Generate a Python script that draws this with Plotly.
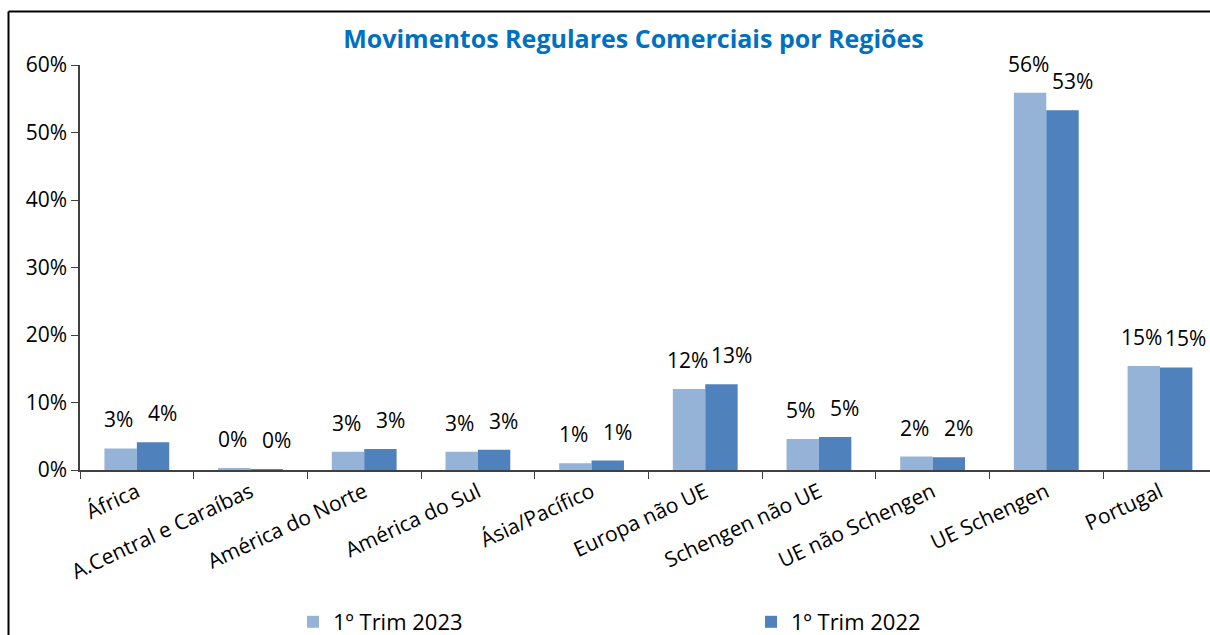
import plotly.graph_objects as go

categories = ["África", "A.Central e Caraíbas", "América do Norte", "América do Sul",
              "Ásia/Pacífico", "Europa não UE", "Schengen não UE", "UE não Schengen",
              "UE Schengen", "Portugal"]
trim_2023 = [0.032, 0.0025, 0.027, 0.027, 0.010, 0.120, 0.046, 0.020, 0.559, 0.154]
trim_2022 = [0.041, 0.001, 0.031, 0.030, 0.014, 0.127, 0.049, 0.019, 0.533, 0.152]
y_ticks = [0, 0.1, 0.2, 0.3, 0.4, 0.5, 0.6]
y_tick_labels = ["0%", "10%", "20%", "30%", "40%", "50%", "60%"]

FONT = "Open Sans"
light = "#95B3D7"
dark = "#4F81BD"

W, H = 1210, 635
L, T, B = 80, 65, 165
PW, PH = W - L, H - T - B

fig = go.Figure()
fig.add_trace(go.Bar(x=categories, y=trim_2023, name="1º Trim 2023",
                     marker=dict(color=light, line=dict(width=0))))
fig.add_trace(go.Bar(x=categories, y=trim_2022, name="1º Trim 2022",
                     marker=dict(color=dark, line=dict(width=0))))

for vals, xs in ((trim_2023, -18), (trim_2022, 26)):
    for c, v in zip(categories, vals):
        fig.add_annotation(x=c, y=v, text=f"{round(v*100):.0f}%", showarrow=False,
                           xref="x", yref="y", xshift=xs, yshift=29,
                           yanchor="middle", font=dict(family=FONT, size=21, color="black"))

# frame (left and top edges of the chart box)
fx = (8.5 - L) / PW
fy = (T + PH - 11.5) / PH
fig.add_shape(type="line", xref="paper", yref="paper",
              x0=fx, x1=fx, y0=-0.6, y1=fy, line=dict(color="black", width=2))
fig.add_shape(type="line", xref="paper", yref="paper",
              x0=fx, x1=1.05, y0=fy, y1=fy, line=dict(color="black", width=2))

fig.update_layout(
    width=W, height=H,
    margin=dict(l=L, r=0, t=T, b=B, pad=0),
    paper_bgcolor="white", plot_bgcolor="white",
    barmode="group", bargap=0.43, bargroupgap=0,
    title=dict(text="<b>Movimentos Regulares Comerciais por Regiões</b>",
               font=dict(family=FONT, size=25, color="#0070C0"),
               x=633.5 / W, xanchor="center", xref="container",
               y=1 - 39 / H, yanchor="middle", yref="container"),
    font=dict(family=FONT, size=21, color="black"),
    showlegend=True,
    legend=dict(orientation="h", x=293 / W, xref="container", xanchor="left",
                y=1 - 622 / H, yref="container", yanchor="middle",
                entrywidth=413, entrywidthmode="pixels", itemwidth=30,
                font=dict(family=FONT, size=22, color="black"),
                traceorder="normal", bgcolor="rgba(0,0,0,0)"),
    xaxis=dict(type="category", range=[-0.5, 9.44], tickangle=-25,
               showline=True, linecolor="#404040", linewidth=1.5,
               ticks="outside", ticklen=7, tickcolor="#404040", tickson="boundaries",
               showgrid=False, tickfont=dict(family=FONT, size=21, color="black")),
    yaxis=dict(range=[0, 0.6], tickvals=y_ticks, ticktext=y_tick_labels,
               showline=True, linecolor="#404040", linewidth=1.5,
               ticks="outside", ticklen=7, tickcolor="#404040",
               showgrid=False, zeroline=False,
               tickfont=dict(family=FONT, size=21, color="black")),
)

fig.write_html(
    "out.html",
    config={"displayModeBar": False},
    post_script="document.documentElement.style.overflow='hidden';"
                "document.body.style.margin='0';document.body.style.overflow='hidden';",
)
